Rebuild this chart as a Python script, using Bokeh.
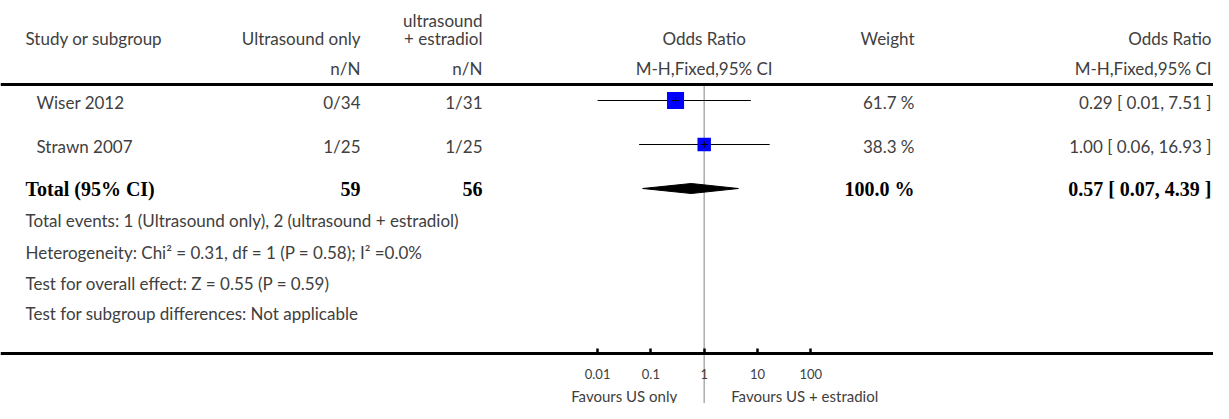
import math
from bokeh.plotting import figure
from bokeh.models import (Range1d, LogScale, LogAxis, FixedTicker, CustomJSTickFormatter,
                          Span)
from bokeh.core.properties import value
from bokeh.embed import file_html
from bokeh.resources import INLINE

# ---------------- data ----------------
studies = ["Wiser 2012", "Strawn 2007"]
us_events = [0, 1]
us_totals = [34, 25]
e2_events = [1, 1]
e2_totals = [31, 25]
weights = [61.7, 38.3]
odds_ratios = [0.29, 1.00]
ci_lower = [0.01, 0.06]
ci_upper = [7.51, 16.93]

total_label = "Total (95% CI)"
total_us = 59
total_e2 = 56
total_weight = 100.0
total_or = 0.57
total_lower = 0.07
total_upper = 4.39

footnotes = [
    "Total events: 1 (Ultrasound only), 2 (ultrasound + estradiol)",
    "Heterogeneity: Chi\u00b2 = 0.31, df = 1 (P = 0.58); I\u00b2 =0.0%",
    "Test for overall effect: Z = 0.55 (P = 0.59)",
    "Test for subgroup differences: Not applicable",
]

axis_ticks = [0.01, 0.1, 1, 10, 100]
favours_left = "Favours US only"
favours_right = "Favours US + estradiol"

header_study = "Study or subgroup"
header_g1 = "Ultrasound only"
header_g2 = ["ultrasound", "+ estradiol"]
header_or = "Odds Ratio"
header_weight = "Weight"
header_nN = "n/N"
header_method = "M-H,Fixed,95% CI"

# ---------------- layout ----------------
W, H = 1213, 403
SANS = "Lato"
SERIF = "Liberation Serif"
TEXT = "#404040"
FS = "17px"
SFS = "15px"
BFS = "20px"

CENTER_PX = 703.7
PX_PER_DECADE = 53.3
AXIS_Y = 353

or_start = 10 ** ((0 - CENTER_PX) / PX_PER_DECADE)
or_end = 10 ** ((W - CENTER_PX) / PX_PER_DECADE)

p = figure(width=W, height=H, output_backend="svg", toolbar_location=None,
           x_range=Range1d(0, W), y_range=Range1d(H, 0),
           x_axis_type=None, y_axis_type=None,
           min_border_left=0, min_border_right=0, min_border_top=0, min_border_bottom=0)
p.outline_line_color = None
p.xgrid.visible = False
p.ygrid.visible = False
p.background_fill_color = "white"
p.border_fill_color = "white"

p.extra_x_ranges = {"or": Range1d(or_start, or_end)}
p.extra_x_scales = {"or": LogScale()}


def txt(x, y, s, align="left", font=SANS, size=FS, style="normal", rng="default", dx=0):
    p.text(x=[x], y=[y], text=[s], text_align=align, text_baseline="middle",
           text_font=value(font), text_font_size=size, text_font_style=style,
           text_color=TEXT if style == "normal" else "black", x_range_name=rng,
           x_offset=dx)


STUDY_X, STUDY_IND_X = 25, 36
G1_R, G2_R = 360, 482
WEIGHT_R, OR_R = 914, 1211

# headers
txt(STUDY_X, 38, header_study)
txt(G1_R, 38, header_g1, "right")
txt(G2_R, 20, header_g2[0], "right")
txt(G2_R, 38, header_g2[1], "right")
txt(1, 38, header_or, "center", rng="or")
txt(WEIGHT_R, 38, header_weight, "right")
txt(OR_R, 38, header_or, "right")
txt(G1_R, 68, header_nN, "right")
txt(G2_R, 68, header_nN, "right")
txt(1, 68, header_method, "center", rng="or")
txt(OR_R, 68, header_method, "right")

p.add_layout(Span(location=84, dimension="width", line_color="black", line_width=3))

# reference line at OR = 1
p.segment(x0=[1], y0=[85], x1=[1], y1=[H], line_color="#ababab", line_width=1.5,
          x_range_name="or")

# study rows
row_y = [100, 144]
for i, s in enumerate(studies):
    y = row_y[i] + 2
    txt(STUDY_IND_X, y, s)
    txt(G1_R, y, f"{us_events[i]}/{us_totals[i]}", "right")
    txt(G2_R, y, f"{e2_events[i]}/{e2_totals[i]}", "right")
    txt(WEIGHT_R, y, f"{weights[i]:.1f} %", "right")
    txt(OR_R, y, f"{odds_ratios[i]:.2f} [ {ci_lower[i]:.2f}, {ci_upper[i]:.2f} ]", "right")

p.segment(x0=ci_lower, y0=row_y, x1=ci_upper, y1=row_y, line_color="black",
          line_width=1.2, x_range_name="or")
box_sizes = [2.17 * math.sqrt(w) for w in weights]
p.scatter(x=odds_ratios, y=row_y, size=box_sizes, marker="square", fill_color="#0000ff",
          line_color=None, x_range_name="or")
p.scatter(x=odds_ratios, y=row_y, size=7, marker="cross", line_color="black",
          line_width=1, x_range_name="or")

# total row
TY = 188
txt(STUDY_X, TY, total_label, font=SERIF, size=BFS, style="bold")
txt(G1_R, TY, f"{total_us}", "right", font=SERIF, size=BFS, style="bold")
txt(G2_R, TY, f"{total_e2}", "right", font=SERIF, size=BFS, style="bold")
txt(WEIGHT_R, TY, f"{total_weight:.1f} %", "right", font=SERIF, size=BFS, style="bold")
txt(OR_R, TY, f"{total_or:.2f} [ {total_lower:.2f}, {total_upper:.2f} ]", "right",
    font=SERIF, size=BFS, style="bold")
p.patch(x=[total_lower, total_or, total_upper, total_or], y=[TY, TY - 5, TY, TY + 5],
        fill_color="black", line_color="black", line_width=1, x_range_name="or")

# footnotes
for fy, f in zip([220, 252, 283, 313], footnotes):
    txt(STUDY_X, fy, f)

# favours labels
txt(1, 395, favours_left, "right", size=SFS, rng="or", dx=-27)
txt(1, 395, favours_right, "left", size=SFS, rng="or", dx=27)

# axis (drawn at a fixed location inside the frame)
axis = LogAxis(x_range_name="or", fixed_location=AXIS_Y,
               ticker=FixedTicker(ticks=axis_ticks),
               formatter=CustomJSTickFormatter(code="return tick.toString()"))
axis.axis_line_width = 3
axis.axis_line_color = "black"
axis.major_tick_in = 5
axis.major_tick_out = 0
axis.major_tick_line_width = 2.5
axis.minor_tick_in = 0
axis.minor_tick_out = 0
axis.major_label_standoff = 15
axis.major_label_text_font = SANS
axis.major_label_text_font_size = "13px"
axis.major_label_text_color = TEXT
p.add_layout(axis, "below")

open("out.html", "w").write(file_html(p, INLINE))
